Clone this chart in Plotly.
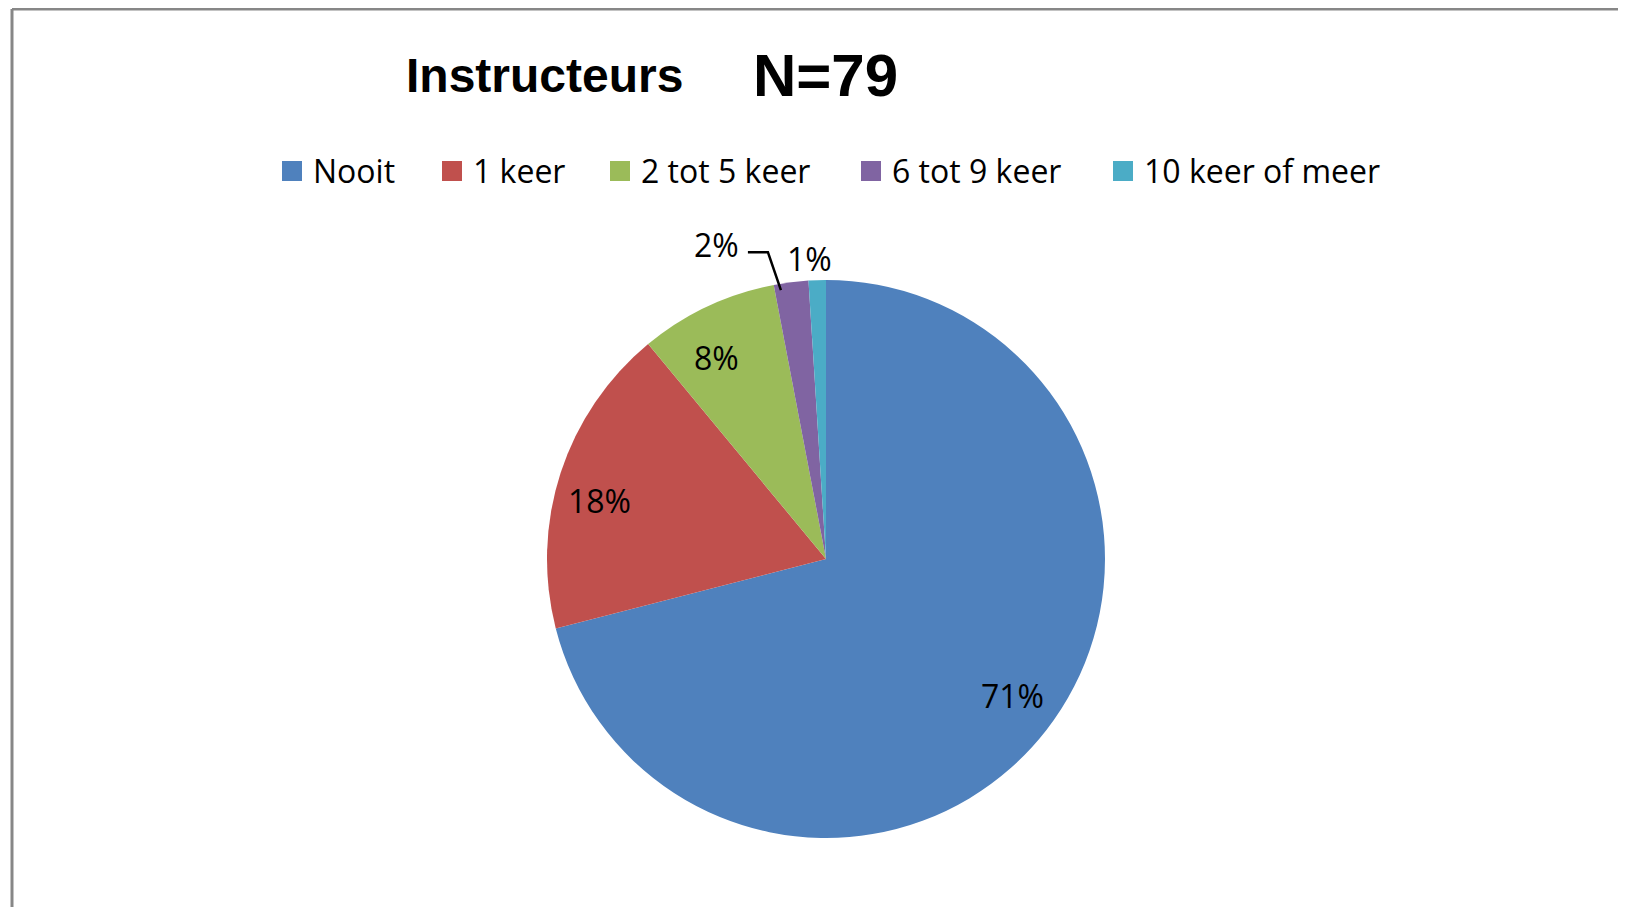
import math
import plotly.graph_objects as go

W, H = 1626, 907
OFF = 8  # page body margin in the browser

categories = ["Nooit", "1 keer", "2 tot 5 keer", "6 tot 9 keer", "10 keer of meer"]
values = [71, 18, 8, 2, 1]
colors = ["#4F81BD", "#C0504D", "#9BBB59", "#8064A2", "#4BACC6"]
title_left = "Instructeurs"
title_right = "N=79"

# layout constants (page pixels)
CX, CY, R = 826, 559, 279          # pie centre / radius
RX, RY = 288, 271                  # label placement ellipse
label_nudge = [(0, 0), (-2, 10), (-9, 0)]
legend_x = [282, 442, 610, 861, 1113]
LEG_Y = 171


def px(x):
    return (x - OFF) / W


def py(y):
    return 1 - (y - OFF) / H


fig = go.Figure(
    go.Pie(
        labels=categories,
        values=values,
        marker=dict(colors=colors, line=dict(width=0)),
        sort=False,
        direction="clockwise",
        rotation=0,
        textinfo="none",
        hoverinfo="label+percent",
        showlegend=False,
        domain=dict(x=[px(CX - R), px(CX + R)], y=[py(CY + R), py(CY - R)]),
    )
)

FONT = "Open Sans, Lato, sans-serif"
total = sum(values)
label_font = dict(family=FONT, size=32, color="#000000")
annotations = []
shapes = []
cum = 0
for i, v in enumerate(values):
    mid = (cum + v / 2) / total * 2 * math.pi
    cum += v
    sx, sy = math.sin(mid), -math.cos(mid)
    txt = f"{round(100 * v / total)}%"
    if v / total >= 0.05:
        rf = 0.82
        nx, ny = label_nudge[i]
        x, y = CX + sx * RX * rf + nx, CY + sy * RY * rf + ny
        annotations.append(dict(x=px(x), y=py(y), xref="paper", yref="paper",
                                text=txt, showarrow=False, font=label_font,
                                xanchor="center", yanchor="middle"))
    else:
        ex, ey = CX + sx * RX, CY + sy * RY
        if i == 3:
            ex -= 9
            x1, y1 = ex - 13, ey - 38
            x2, y2 = x1 - 20, y1
            shapes.append(dict(type="path", xref="paper", yref="paper",
                               path=f"M {px(ex)},{py(ey)} L {px(x1)},{py(y1)} L {px(x2)},{py(y2)}",
                               line=dict(color="#000000", width=2.5)))
            annotations.append(dict(x=px(x2 - 7), y=py(y2 - 8), xref="paper", yref="paper",
                                    text=txt, showarrow=False, font=label_font,
                                    xanchor="right", yanchor="middle"))
        else:
            annotations.append(dict(x=px(ex - 7), y=py(ey - 30), xref="paper", yref="paper",
                                    text=txt, showarrow=False, font=label_font,
                                    xanchor="center", yanchor="middle"))

# manual legend (square swatch + text)
for name, col, lx in zip(categories, colors, legend_x):
    shapes.append(dict(type="rect", xref="paper", yref="paper",
                       x0=px(lx), x1=px(lx + 20), y0=py(LEG_Y - 10), y1=py(LEG_Y + 10),
                       fillcolor=col, line=dict(width=0)))
    annotations.append(dict(x=px(lx + 29), y=py(LEG_Y - 1), xref="paper", yref="paper",
                            text=name, showarrow=False, xanchor="left", yanchor="middle",
                            font=dict(family=FONT, size=32, color="#000")))

# title
annotations.append(dict(x=px(404), y=py(75), xref="paper", yref="paper", text=f"<b>{title_left}</b>",
                        showarrow=False, xanchor="left", yanchor="middle",
                        font=dict(family="Liberation Sans, Arial, sans-serif", size=48, color="#000")))
annotations.append(dict(x=px(751), y=py(75), xref="paper", yref="paper", text=f"<b>{title_right}</b>",
                        showarrow=False, xanchor="left", yanchor="middle",
                        font=dict(family="Liberation Sans, Arial, sans-serif", size=60, color="#000")))

# frame lines (top and left)
shapes.append(dict(type="line", xref="paper", yref="paper", x0=px(12), x1=1.0, y0=py(9), y1=py(9),
                   line=dict(color="#878787", width=3)))
shapes.append(dict(type="line", xref="paper", yref="paper", x0=px(12), x1=px(12), y0=py(9), y1=0,
                   line=dict(color="#878787", width=3)))

fig.update_layout(
    width=W, height=H,
    margin=dict(l=0, r=0, t=0, b=0),
    paper_bgcolor="white",
    plot_bgcolor="white",
    showlegend=False,
    annotations=annotations,
    shapes=shapes,
)

fig.write_html("out.html")
